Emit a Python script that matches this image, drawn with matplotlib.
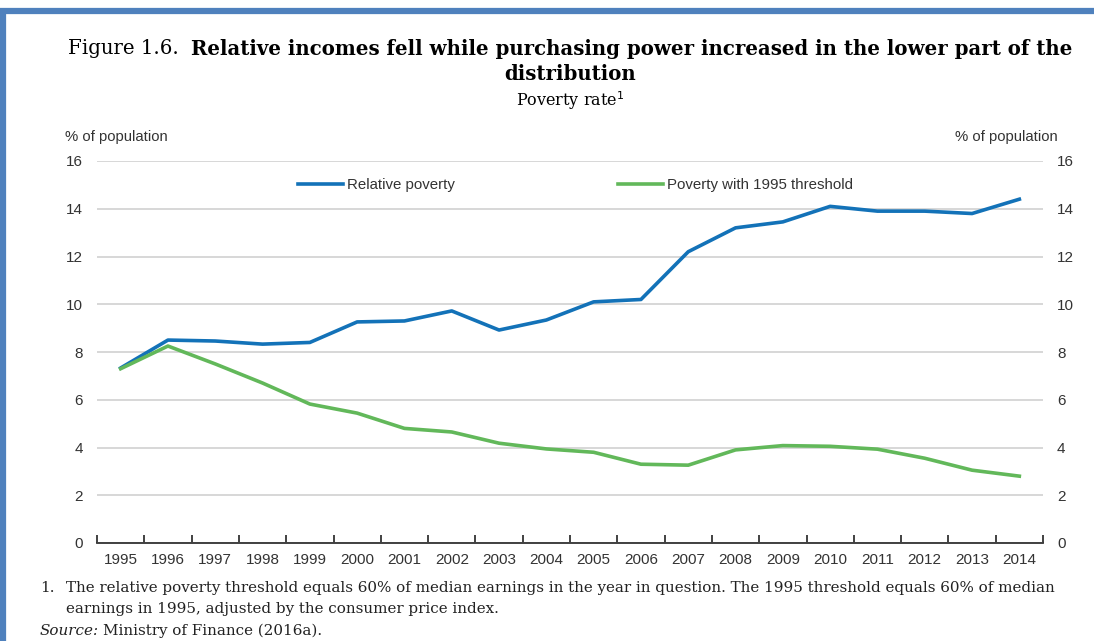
import matplotlib
matplotlib.use("Agg")
import matplotlib.pyplot as plt
from matplotlib.patches import Rectangle
import numpy as np

years = [str(y) for y in range(1995, 2015)]
relative_poverty = [7.33, 8.5, 8.46, 8.33, 8.4, 9.26, 9.3, 9.72, 8.92, 9.34,
                    10.1, 10.2, 12.2, 13.2, 13.45, 14.1, 13.9, 13.9, 13.8, 14.4]
poverty_1995 = [7.3, 8.25, 7.5, 6.7, 5.82, 5.44, 4.8, 4.65, 4.18, 3.94,
                3.8, 3.3, 3.26, 3.9, 4.08, 4.05, 3.93, 3.55, 3.05, 2.8]
yticks = [0, 2, 4, 6, 8, 10, 12, 14, 16]

blue = "#1372b8"
green = "#62b85a"
sans = ["Liberation Sans", "DejaVu Sans"]
serif = ["DejaVu Serif"]

fig = plt.figure(figsize=(10.94, 6.41), dpi=100)
W, H = 1094, 641

# screenshot frame
fig.patches.append(Rectangle((3 / W, -0.1), 1.2, 1 - 11 / H + 0.1, transform=fig.transFigure,
                             fill=False, edgecolor="#4f81bd", linewidth=4.5))

ax = fig.add_axes([97 / W, 1 - 543 / H, (1043 - 97) / W, (543 - 161) / H])
x = np.arange(len(years))
ax.plot(x, relative_poverty, color=blue, lw=2.6, label="Relative poverty", solid_joinstyle="round")
ax.plot(x, poverty_1995, color=green, lw=2.6, label="Poverty with 1995 threshold", solid_joinstyle="round")

ax.set_xlim(-0.5, len(years) - 0.5)
ax.set_ylim(0, 16)
ax.yaxis.grid(True, color="#d4d4d4", lw=1.3)
ax.set_axisbelow(True)
ax.tick_params(axis="y", length=0, labelleft=True, labelright=True, pad=10,
               labelsize=11, labelcolor="#333333")
ax.set_yticks(yticks)
ax.set_yticklabels([str(v) for v in yticks], fontfamily=sans)
for s in ["top", "left", "right"]:
    ax.spines[s].set_visible(False)
ax.spines["bottom"].set_color("#333333")
ax.spines["bottom"].set_linewidth(1.3)

ax.set_xticks(np.arange(-0.5, len(years), 1.0))
ax.set_xticklabels([])
ax.set_xticks(x, minor=True)
ax.set_xticklabels(years, minor=True, fontfamily=sans)
ax.tick_params(axis="x", which="major", direction="in", length=6, width=1.3, color="#333333")
ax.tick_params(axis="x", which="minor", length=0, pad=7, labelsize=11, labelcolor="#333333")

leg = ax.legend(loc="upper left", bbox_to_anchor=((298 - 97) / (1043 - 97), 1 - (178 - 161) / (543 - 161)),
                ncol=2, frameon=False, handlelength=3.0, handletextpad=0.25, columnspacing=10.9,
                borderaxespad=0, borderpad=0, prop={"family": sans, "size": 10.8})
for t in leg.get_texts():
    t.set_color("#333333")

fig.text(65 / W, 1 - 137 / H, "% of population", ha="left", va="center", fontsize=10.7,
         family=sans, color="#333333")
fig.text(1058 / W, 1 - 137 / H, "% of population", ha="right", va="center", fontsize=10.7,
         family=sans, color="#333333")


def fit(texts, target):
    # scale a group of text pieces so that together they span target px
    fig.canvas.draw()
    r = fig.canvas.get_renderer()
    w = sum(t.get_window_extent(r).width for t in texts)
    for t in texts:
        t.set_fontsize(t.get_fontsize() * target / w)


# title with mixed weights, centred
t1 = fig.text(0, 1 - 49 / H, "Figure 1.6.  ", fontsize=15, family=serif, va="center")
t2 = fig.text(0, 1 - 49 / H, "Relative incomes fell while purchasing power increased in the lower part of the",
              fontsize=15, family=serif, weight="bold", va="center")
fit([t1, t2], 1009)
fig.canvas.draw()
r = fig.canvas.get_renderer()
w1 = t1.get_window_extent(r).width
w2 = t2.get_window_extent(r).width
x0 = (570 - (w1 + w2) / 2) / W
t1.set_x(x0)
t2.set_x(x0 + w1 / W)
fig.text(570 / W, 1 - 74 / H, "distribution", fontsize=t2.get_fontsize(), family=serif, weight="bold",
         ha="center", va="center")
sub = fig.text(570 / W, 1 - 101 / H, "Poverty rate$^1$", fontsize=11, family=serif,
               ha="center", va="center")
fit([sub], 108)

n1 = fig.text(40 / W, 1 - 588 / H, "1.", fontsize=11, family=serif, ha="left", va="center",
              color="#222222")
f1 = fig.text(66 / W, 1 - 588 / H, "The relative poverty threshold equals 60% of median earnings in the year in question. "
              "The 1995 threshold equals 60% of median", fontsize=11, family=serif, ha="left", va="center",
              color="#222222")
f2 = fig.text(66 / W, 1 - 609 / H, "earnings in 1995, adjusted by the consumer price index.", fontsize=11,
              family=serif, ha="left", va="center", color="#222222")
fit([f2], 433)
fs = f2.get_fontsize()
f1.set_fontsize(fs)
n1.set_fontsize(fs)
s1 = fig.text(40 / W, 1 - 631 / H, "Source:", fontsize=fs, family=serif, style="italic",
              ha="left", va="center", color="#222222")
fig.canvas.draw()
ws = s1.get_window_extent(r).width
fig.text(40 / W + (ws + 4) / W, 1 - 631 / H, "Ministry of Finance (2016a).", fontsize=fs, family=serif,
         ha="left", va="center", color="#222222")

fig.savefig("out.png", dpi=100)
